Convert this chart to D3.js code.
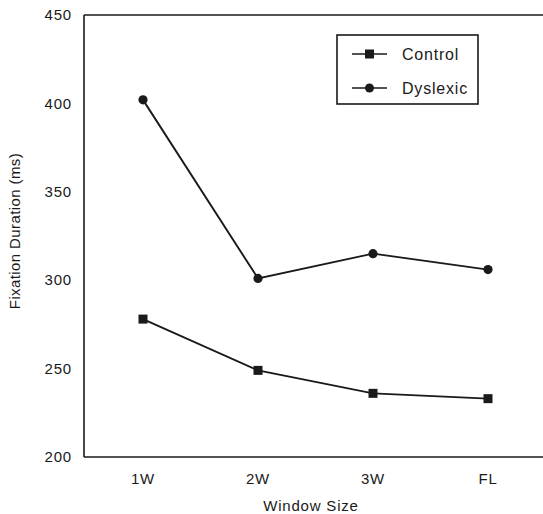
<!DOCTYPE html>
<html>
<head>
<meta charset="utf-8">
<script src="https://cdn.jsdelivr.net/npm/d3@7"></script>
<style>
  body { margin: 0; background: #fff; }
  text { font-family: "Liberation Sans", Arial, sans-serif; fill: #1a1a1a; letter-spacing: 0.8px; }
</style>
</head>
<body>
<div id="chart"></div>
<script>
// window sizes on the x axis
var windows = ["1W", "2W", "3W", "FL"];
// mean fixation duration (ms)
var control = [278, 249, 236, 233];
var dyslexic = [402, 301, 315, 306];
var yTicks = [200, 250, 300, 350, 400, 450];

var margin = {top: 15, right: 0, bottom: 57, left: 84},
    width = 543 - margin.left - margin.right,
    height = 514 - margin.top - margin.bottom;

var svg = d3.select("#chart")
  .append("svg")
    .attr("width", 543)
    .attr("height", 514)
  .append("g")
    .attr("transform", "translate(" + margin.left + "," + margin.top + ")");

var x = d3.scalePoint()
  .domain(windows)
  .range([59, 404]);

var y = d3.scaleLinear()
  .domain([200, 450])
  .range([height, 0]);

// frame: left, bottom and top lines (no right side)
var frame = "#1a1a1a";
svg.append("line").attr("x1", 0).attr("x2", 0).attr("y1", 0).attr("y2", height)
  .attr("stroke", frame).attr("stroke-width", 1.6);
svg.append("line").attr("x1", 0).attr("x2", width).attr("y1", height).attr("y2", height)
  .attr("stroke", frame).attr("stroke-width", 1.6);
svg.append("line").attr("x1", 0).attr("x2", width).attr("y1", 0).attr("y2", 0)
  .attr("stroke", frame).attr("stroke-width", 1.6);

// y tick labels
svg.selectAll(".ylab")
  .data(yTicks)
  .enter().append("text")
    .attr("x", -12)
    .attr("y", function(d) { return y(d); })
    .attr("dy", "0.35em")
    .attr("text-anchor", "end")
    .style("font-size", "15px")
    .text(function(d) { return d; });

// x tick labels
svg.selectAll(".xlab")
  .data(windows)
  .enter().append("text")
    .attr("x", function(d) { return x(d); })
    .attr("y", height + 27)
    .attr("text-anchor", "middle")
    .style("font-size", "15px")
    .text(function(d) { return d; });

// axis titles
svg.append("text")
  .attr("x", 227)
  .attr("y", height + 54)
  .attr("text-anchor", "middle")
  .style("font-size", "15px")
  .text("Window Size");

svg.append("text")
  .attr("transform", "translate(-64," + (height / 2 - 5) + ") rotate(-90)")
  .attr("text-anchor", "middle")
  .style("font-size", "15px")
  .style("letter-spacing", "0.4px")
  .text("Fixation Duration (ms)");

var line = d3.line()
  .x(function(d, i) { return x(windows[i]); })
  .y(function(d) { return y(d); });

// series lines
[control, dyslexic].forEach(function(s) {
  svg.append("path")
    .datum(s)
    .attr("fill", "none")
    .attr("stroke", "#1a1a1a")
    .attr("stroke-width", 1.9)
    .attr("d", line);
});

// control squares
svg.selectAll(".sq")
  .data(control)
  .enter().append("rect")
    .attr("x", function(d, i) { return x(windows[i]) - 4.5; })
    .attr("y", function(d) { return y(d) - 4.5; })
    .attr("width", 9)
    .attr("height", 9)
    .attr("fill", "#1a1a1a");

// dyslexic circles
svg.selectAll(".dot")
  .data(dyslexic)
  .enter().append("circle")
    .attr("cx", function(d, i) { return x(windows[i]); })
    .attr("cy", function(d) { return y(d); })
    .attr("r", 4.6)
    .attr("fill", "#1a1a1a");

// legend
var legend = svg.append("g").attr("transform", "translate(253,20)");
legend.append("rect")
  .attr("width", 141).attr("height", 69)
  .attr("fill", "#fff").attr("stroke", "#1a1a1a").attr("stroke-width", 1.6);

var series = ["Control", "Dyslexic"];
series.forEach(function(name, i) {
  var yy = 19 + i * 34;
  legend.append("line")
    .attr("x1", 15).attr("x2", 50).attr("y1", yy).attr("y2", yy)
    .attr("stroke", "#1a1a1a").attr("stroke-width", 1.5);
  if (i === 0) {
    legend.append("rect").attr("x", 28).attr("y", yy - 4.5)
      .attr("width", 9).attr("height", 9).attr("fill", "#1a1a1a");
  } else {
    legend.append("circle").attr("cx", 32.5).attr("cy", yy).attr("r", 4.5)
      .attr("fill", "#1a1a1a");
  }
  legend.append("text")
    .attr("x", 65).attr("y", yy).attr("dy", "0.35em")
    .style("font-size", "16px")
    .text(name);
});
</script>
</body>
</html>
